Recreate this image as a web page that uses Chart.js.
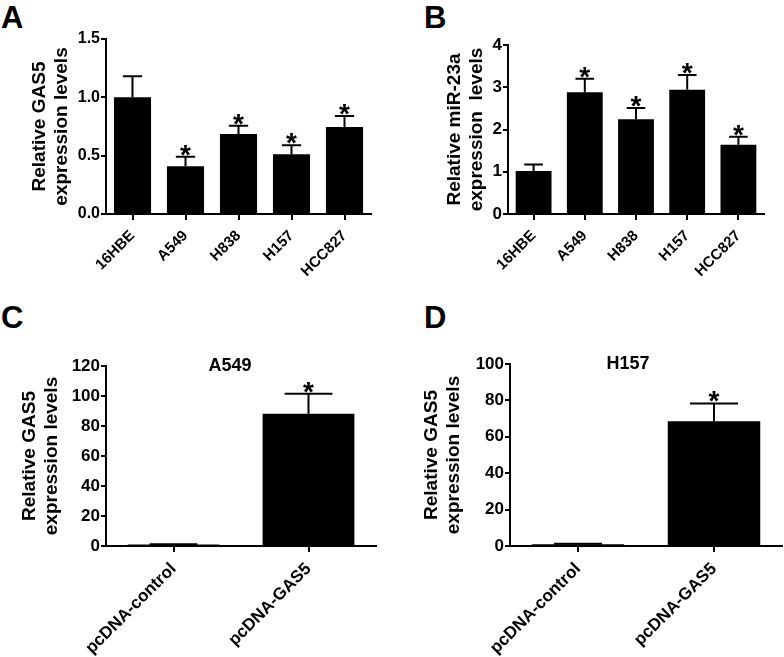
<!DOCTYPE html>
<html>
<head>
<meta charset="utf-8">
<script src="https://cdn.jsdelivr.net/npm/chart.js@4"></script>
<style>
body{margin:0;background:#fff;width:784px;height:657px;position:relative;overflow:hidden;font-family:"Liberation Sans",Arial,sans-serif}
canvas{position:absolute}
.tag{position:absolute;font-weight:bold;font-size:31px;line-height:31px;color:#000}
</style>
</head>
<body>
<div class="tag" style="left:1px;top:2px">A</div>
<div class="tag" style="left:424px;top:2px">B</div>
<div class="tag" style="left:1px;top:302px">C</div>
<div class="tag" style="left:424px;top:302px">D</div>
<canvas id="chartA" width="392" height="300" style="left:0;top:0"></canvas>
<canvas id="chartB" width="392" height="300" style="left:392px;top:0"></canvas>
<canvas id="chartC" width="392" height="357" style="left:0;top:300px"></canvas>
<canvas id="chartD" width="392" height="357" style="left:392px;top:300px"></canvas>
<script>
// values
const cellLines = ["16HBE", "A549", "H838", "H157", "HCC827"];
const gas5Mean = [1.00, 0.41, 0.685, 0.513, 0.745];
const gas5Sem = [0.18, 0.08, 0.072, 0.076, 0.095];
const gas5Star = [false, true, true, true, true];
const gas5Ticks = [0, 0.5, 1.0, 1.5];

const mirMean = [1.02, 2.88, 2.24, 2.94, 1.64];
const mirSem = [0.15, 0.32, 0.27, 0.35, 0.19];
const mirStar = [false, true, true, true, true];
const mirTicks = [0, 1, 2, 3, 4];

const vectors = ["pcDNA-control", "pcDNA-GAS5"];
const a549Mean = [1.0, 88.1];
const a549Sem = [0.2, 13.4];
const a549Star = [false, true];
const a549Ticks = [0, 20, 40, 60, 80, 100, 120];

const h157Mean = [1.0, 68.6];
const h157Sem = [0.2, 9.7];
const h157Star = [false, true];
const h157Ticks = [0, 20, 40, 60, 80, 100];

const FONT = "'Liberation Sans', Arial, sans-serif";

// touch the fonts once before charting so the canvas gets the real face
(function warmFonts() {
    const c = document.createElement("canvas").getContext("2d");
    [15, 16, 17, 18, 19, 28].forEach(sz => {
        c.font = "bold " + sz + "px " + FONT;
        c.measureText("Relative GAS5 0.5 120");
    });
})();

// SEM bars (upper only) + significance stars
const errorBars = {
    id: "errorBars",
    afterDatasetsDraw(chart) {
        const ctx = chart.ctx;
        const ds = chart.data.datasets[0];
        const y = chart.scales.y;
        chart.getDatasetMeta(0).data.forEach((bar, i) => {
            const top = y.getPixelForValue(ds.data[i] + ds.sem[i]);
            const half = bar.width * 0.26;
            ctx.save();
            ctx.strokeStyle = "#000";
            ctx.lineWidth = 2;
            ctx.beginPath();
            ctx.moveTo(bar.x, bar.y);
            ctx.lineTo(bar.x, top);
            ctx.moveTo(bar.x - half, top);
            ctx.lineTo(bar.x + half, top);
            ctx.stroke();
            if (ds.star[i]) {
                ctx.fillStyle = "#000";
                ctx.font = "bold 28px " + FONT;
                ctx.textAlign = "center";
                ctx.textBaseline = "alphabetic";
                ctx.fillText("*", bar.x, top + 7);
            }
            ctx.restore();
        });
    }
};

const panelTitle = {
    id: "panelTitle",
    afterDraw(chart, args, opts) {
        if (!opts.text) return;
        const ctx = chart.ctx;
        const a = chart.chartArea;
        ctx.save();
        ctx.fillStyle = "#000";
        ctx.font = "bold 18px " + FONT;
        ctx.textAlign = "center";
        ctx.textBaseline = "middle";
        ctx.fillText(opts.text, (a.left + a.right) / 2 + opts.dx, a.top + opts.dy);
        ctx.restore();
    }
};

const charts = [];
function makeChart(id, cfg) {
    charts.push(new Chart(document.getElementById(id), {
        type: "bar",
        data: {
            labels: cfg.labels,
            datasets: [{
                data: cfg.mean,
                sem: cfg.sem,
                star: cfg.star,
                backgroundColor: "#000",
                borderColor: "#000",
                borderWidth: 0,
                barPercentage: cfg.barPct,
                categoryPercentage: 1
            }]
        },
        options: {
            responsive: false,
            animation: false,
            layout: { padding: { left: 0, right: cfg.padRight, top: cfg.padTop, bottom: 0 } },
            plugins: {
                legend: { display: false },
                tooltip: { enabled: false },
                panelTitle: { text: cfg.title, dx: cfg.titleDx || 0, dy: cfg.titleDy || 0 }
            },
            scales: {
                x: {
                    afterFit: s => { s.height = cfg.xHeight; },
                    border: { display: true, color: "#000", width: 2 },
                    grid: { display: true, offset: false, drawOnChartArea: false, drawTicks: true, tickLength: 6, color: "#000", lineWidth: 2 },
                    ticks: {
                        color: "#000", autoSkip: false, minRotation: 45, maxRotation: 45, padding: 7,
                        font: { family: FONT, size: cfg.xFont, weight: "bold" }
                    }
                },
                y: {
                    min: cfg.ticks[0],
                    max: cfg.ticks[cfg.ticks.length - 1],
                    afterFit: s => { s.width = cfg.yWidth; },
                    afterBuildTicks: s => { s.ticks = cfg.ticks.map(v => ({ value: v })); },
                    border: { display: true, color: "#000", width: 2 },
                    grid: { display: true, drawOnChartArea: false, drawTicks: true, tickLength: 5, color: "#000", lineWidth: 2 },
                    ticks: {
                        color: "#000", padding: 1,
                        font: { family: FONT, size: cfg.yFont, weight: "bold" },
                        callback: v => cfg.decimals ? Number(v).toFixed(cfg.decimals) : String(v)
                    },
                    title: {
                        display: true,
                        text: cfg.yTitle,
                        color: "#000",
                        font: { family: FONT, size: 19, weight: "bold", lineHeight: 1.2 },
                        padding: { top: cfg.titlePad, bottom: 0 }
                    }
                }
            }
        },
        plugins: [errorBars, panelTitle]
    }));
}

makeChart("chartA", {
    labels: cellLines, mean: gas5Mean, sem: gas5Sem, star: gas5Star, ticks: gas5Ticks, decimals: 1,
    yTitle: ["Relative GAS5", "expression levels"], titlePad: 28,
    barPct: 0.70, padRight: 21, padTop: 39, xHeight: 86, yWidth: 106, xFont: 15, yFont: 16
});
makeChart("chartB", {
    labels: cellLines, mean: mirMean, sem: mirSem, star: mirStar, ticks: mirTicks, decimals: 0,
    yTitle: ["Relative miR-23a", "expression  levels"], titlePad: 51,
    barPct: 0.70, padRight: 20, padTop: 45, xHeight: 86, yWidth: 116, xFont: 15, yFont: 17
});
makeChart("chartC", {
    labels: vectors, mean: a549Mean, sem: a549Sem, star: a549Star, ticks: a549Ticks, decimals: 0,
    yTitle: ["Relative GAS5", "expression levels"], titlePad: 18,
    title: "A549", titleDx: -11, titleDy: 0,
    barPct: 0.68, padRight: 16, padTop: 66, xHeight: 111, yWidth: 106, xFont: 17, yFont: 17
});
makeChart("chartD", {
    labels: vectors, mean: h157Mean, sem: h157Sem, star: h157Star, ticks: h157Ticks, decimals: 0,
    yTitle: ["Relative GAS5", "expression levels"], titlePad: 28,
    title: "H157", titleDx: -18, titleDy: 0,
    barPct: 0.68, padRight: 2, padTop: 64, xHeight: 111, yWidth: 118, xFont: 17, yFont: 17
});

// redraw once the font set has settled
if (document.fonts) {
    document.fonts.ready.then(() => charts.forEach(c => c.update()));
}
</script>
</body>
</html>
